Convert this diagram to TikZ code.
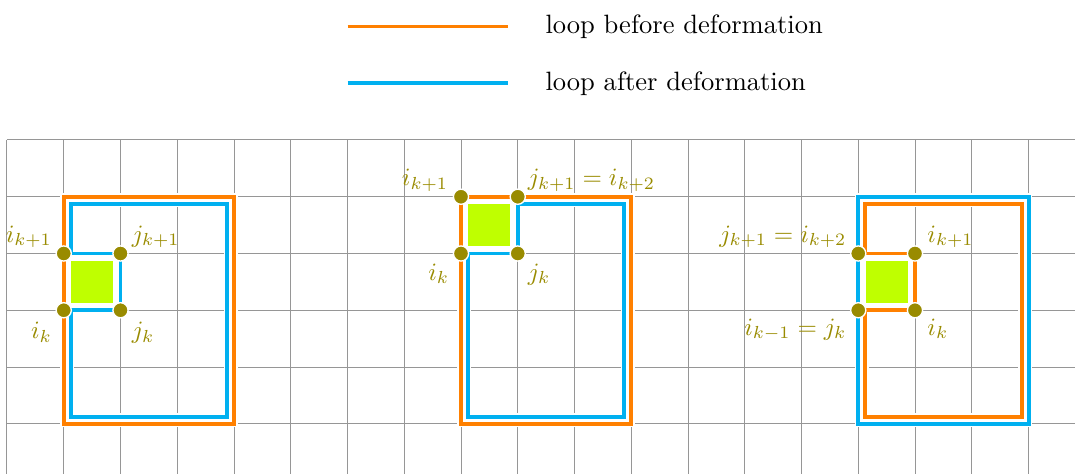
\documentclass[tikz,border=0pt]{standalone}
\usepackage{amsmath}
\usetikzlibrary{calc}
\definecolor{orng}{RGB}{255,128,0}
\definecolor{blu}{RGB}{0,176,240}
\definecolor{grn}{RGB}{191,255,0}
\definecolor{olv}{RGB}{153,139,0}
\definecolor{gridc}{RGB}{150,150,150}
\tikzset{
  gridline/.style={draw=gridc, line width=0.5pt},
  loopunder/.style={draw=white, line width=3.6pt, line join=miter},
  orangeloop/.style={draw=orng, line width=2pt, line join=miter},
  blueloop/.style={draw=blu, line width=2pt, line join=miter},
  greensq/.style={fill=grn},
  vdot/.style={circle, fill=olv, draw=white, line width=0.7pt, minimum size=7.6pt, inner sep=0pt},
  lab/.style={text=olv, inner sep=0pt, scale=1.25},
  legtext/.style={anchor=west, inner sep=0pt, scale=1.33, text=black}
}
\begin{document}
\begin{tikzpicture}
\def\d{0.12}
\def\g{0.13}
\useasboundingbox (-0.1233,-5.8855) rectangle (18.8194,2.4670);
% grid
\foreach \y in {0,-1,-2,-3,-4,-5} \draw[gridline] (0,\y) -- (18.8194,\y);
\foreach \x in {0,...,18} \draw[gridline] (\x,0) -- (\x,-5.8855);
% legend
\coordinate (la1) at (6,2); \coordinate (lb1) at (8.83,2);
\coordinate (la2) at (6,1); \coordinate (lb2) at (8.83,1);
\draw[orangeloop] (la1) -- (lb1);
\draw[blueloop] (la2) -- (lb2);
\node[legtext] (t1) at (9.48,2) {loop before deformation};
\node[legtext] (t2) at (9.48,1) {loop after deformation};
% ---------- panel 1 ----------
\fill[greensq] (1+\g,-2-\g) rectangle (2-\g,-3+\g);
\draw[loopunder] (1,-1) rectangle (4,-5);
\draw[orangeloop] (1,-1) rectangle (4,-5);
\draw[loopunder] (1+\d,-1-\d) -- (4-\d,-1-\d) -- (4-\d,-5+\d) -- (1+\d,-5+\d) -- (1+\d,-3) -- (2,-3) -- (2,-2) -- (1+\d,-2) -- cycle;
\draw[blueloop] (1+\d,-1-\d) -- (4-\d,-1-\d) -- (4-\d,-5+\d) -- (1+\d,-5+\d) -- (1+\d,-3) -- (2,-3) -- (2,-2) -- (1+\d,-2) -- cycle;
\node[vdot] (a1) at (1,-2) {};
\node[vdot] (a2) at (2,-2) {};
\node[vdot] (a3) at (1,-3) {};
\node[vdot] (a4) at (2,-3) {};
\node[lab, anchor=south east] (la) at ($(a1)+(-0.2,0.09)$) {$i_{k+1}$};
\node[lab, anchor=south west] (lb) at ($(a2)+(0.19,0.09)$) {$j_{k+1}$};
\node[lab, anchor=north east] (lc) at ($(a3)+(-0.2,-0.2)$) {$i_{k}$};
\node[lab, anchor=north west] (ld) at ($(a4)+(0.19,-0.2)$) {$j_{k}$};
% ---------- panel 2 ----------
\fill[greensq] (8+\g,-1-\g) rectangle (9-\g,-2+\g);
\draw[loopunder] (8,-1) rectangle (11,-5);
\draw[orangeloop] (8,-1) rectangle (11,-5);
\draw[loopunder] (9,-1-\d) -- (11-\d,-1-\d) -- (11-\d,-5+\d) -- (8+\d,-5+\d) -- (8+\d,-2) -- (9,-2) -- cycle;
\draw[blueloop] (9,-1-\d) -- (11-\d,-1-\d) -- (11-\d,-5+\d) -- (8+\d,-5+\d) -- (8+\d,-2) -- (9,-2) -- cycle;
\node[vdot] (b1) at (8,-1) {};
\node[vdot] (b2) at (9,-1) {};
\node[vdot] (b3) at (8,-2) {};
\node[vdot] (b4) at (9,-2) {};
\node[lab, anchor=south east] (lbe) at ($(b1)+(-0.22,0.08)$) {$i_{k+1}$};
\node[lab, anchor=south west] (lbf) at ($(b2)+(0.17,0.08)$) {$j_{k+1}=i_{k+2}$};
\node[lab, anchor=north east] (lbg) at ($(b3)+(-0.2,-0.17)$) {$i_{k}$};
\node[lab, anchor=north west] (lbh) at ($(b4)+(0.17,-0.17)$) {$j_{k}$};
% ---------- panel 3 ----------
\fill[greensq] (15+\g,-2-\g) rectangle (16-\g,-3+\g);
\draw[loopunder] (15,-1) rectangle (18,-5);
\draw[blueloop] (15,-1) rectangle (18,-5);
\draw[loopunder] (15+\d,-1-\d) -- (18-\d,-1-\d) -- (18-\d,-5+\d) -- (15+\d,-5+\d) -- (15+\d,-3) -- (16,-3) -- (16,-2) -- (15+\d,-2) -- cycle;
\draw[orangeloop] (15+\d,-1-\d) -- (18-\d,-1-\d) -- (18-\d,-5+\d) -- (15+\d,-5+\d) -- (15+\d,-3) -- (16,-3) -- (16,-2) -- (15+\d,-2) -- cycle;
\node[vdot] (c1) at (15,-2) {};
\node[vdot] (c2) at (16,-2) {};
\node[vdot] (c3) at (15,-3) {};
\node[vdot] (c4) at (16,-3) {};
\node[lab, anchor=south east] (lce) at ($(c1)+(-0.2,0.09)$) {$j_{k+1}=i_{k+2}$};
\node[lab, anchor=south west] (lcf) at ($(c2)+(0.21,0.09)$) {$i_{k+1}$};
\node[lab, anchor=north east] (lcg) at ($(c3)+(-0.2,-0.14)$) {$i_{k-1}=j_{k}$};
\node[lab, anchor=north west] (lch) at ($(c4)+(0.21,-0.14)$) {$i_{k}$};
\end{tikzpicture}
\end{document}
